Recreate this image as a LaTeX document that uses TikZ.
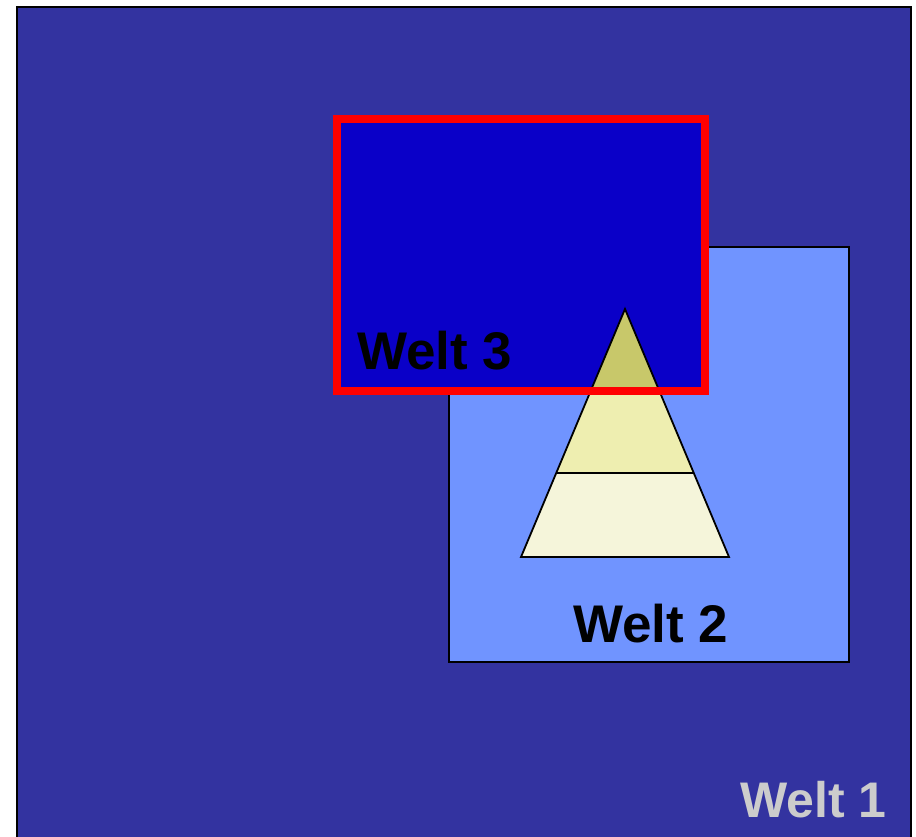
\documentclass[tikz,border=0pt]{standalone}
\usepackage{fontspec}
\setmainfont{Liberation Sans}
\usepackage{tikz}
\usetikzlibrary{calc}

\definecolor{weltone}{RGB}{51,51,160}
\definecolor{welttwo}{RGB}{112,148,255}
\definecolor{weltthree}{RGB}{10,0,200}
\definecolor{pyrtop}{RGB}{200,200,106}
\definecolor{pyrmid}{RGB}{238,238,176}
\definecolor{pyrlow}{RGB}{245,245,218}
\definecolor{labelgray}{RGB}{204,204,204}

\tikzset{
  weltlabel/.style={font=\bfseries\fontsize{53}{53}\selectfont, inner sep=0pt, anchor=base west},
  pyrband/.style={draw=black, line width=1.8pt, line join=miter}
}

\begin{document}
\begin{tikzpicture}[x=1pt,y=-1pt]
    \useasboundingbox (0,0) rectangle (916,836);

    % Drawing world 1
    \draw [fill=weltone, line width=2pt] (17,850) -- (17,7) -- (911,7) -- (911,850);%

    % Drawing world 2
    \draw [fill=welttwo, line width=2pt] (449,247) rectangle (849,662);%

    % Drawing world 3 (fill only)
    \fill [weltthree] (337,119) rectangle (705,391);%

    % Drawing the pyramid
    \coordinate (apex) at (625,309);
    \coordinate (baseL) at (521,557);
    \coordinate (baseR) at (729,557);
    \coordinate (midL) at ($(apex)!0.6613!(baseL)$);
    \coordinate (midR) at ($(apex)!0.6613!(baseR)$);
    \coordinate (cutL) at ($(apex)!0.3306!(baseL)$);
    \coordinate (cutR) at ($(apex)!0.3306!(baseR)$);
    \fill [pyrlow] (midL) -- (midR) -- (baseR) -- (baseL) -- cycle;%
    \fill [pyrmid] (cutL) -- (cutR) -- (midR) -- (midL) -- cycle;%
    \fill [pyrtop] (apex) -- (cutR) -- (cutL) -- cycle;%
    \draw [pyrband] (apex) -- (baseR) -- (baseL) -- cycle;%
    \draw [pyrband] (midL) -- (midR);%

    % Drawing world 3 border
    \draw [red, line width=8pt] (337,119) rectangle (705,391);%

    % Labels
    \node [weltlabel, text=black] (welt3) at (357,369) {Welt 3};%
    \node [weltlabel, text=black] (welt2) at (573,642) {Welt 2};%
    \node [weltlabel, text=labelgray, font=\bfseries\fontsize{50}{50}\selectfont] (welt1) at (740,817) {Welt 1};%
\end{tikzpicture}
\end{document}
